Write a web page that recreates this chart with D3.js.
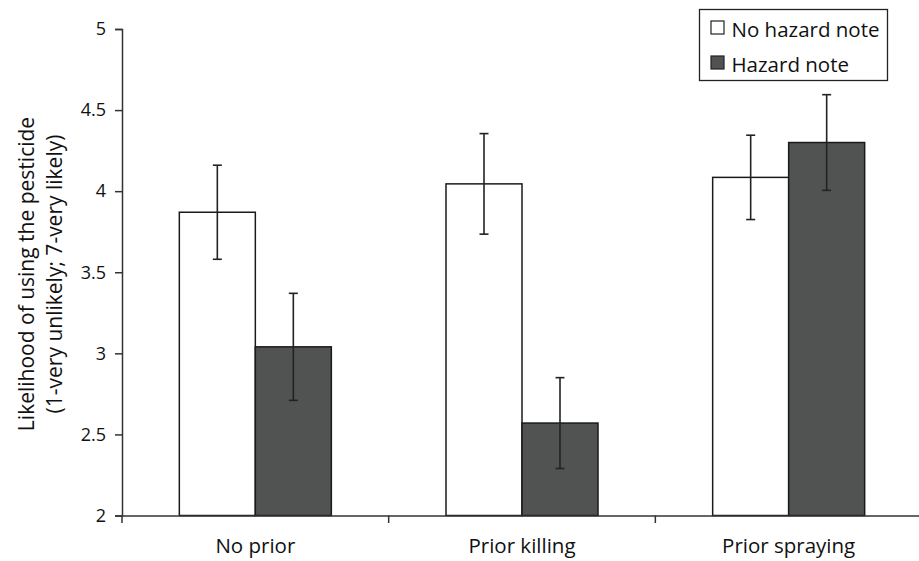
<!DOCTYPE html>
<html>
<head>
<meta charset="utf-8">
<script src="https://cdn.jsdelivr.net/npm/d3@7"></script>
<style>
  body { margin: 0; background: #fff; }
  svg text { font-family: "Open Sans", "DejaVu Sans", sans-serif; fill: #111; }
</style>
</head>
<body>
<div id="chart"></div>
<script>
// Chart data
var categories = ["No prior", "Prior killing", "Prior spraying"];
var seriesNames = ["No hazard note", "Hazard note"];
var noHazardMeans = [3.87, 4.045, 4.085];
var noHazardErrors = [0.29, 0.31, 0.26];
var hazardMeans = [3.04, 2.57, 4.30];
var hazardErrors = [0.33, 0.28, 0.295];
var yTicks = [2, 2.5, 3, 3.5, 4, 4.5, 5];

var colors = ["#ffffff", "#515352"];

// Build rows for drawing
var rows = [];
categories.forEach(function(c, i) {
    rows.push({ cat: c, series: seriesNames[0], mean: noHazardMeans[i], err: noHazardErrors[i] });
    rows.push({ cat: c, series: seriesNames[1], mean: hazardMeans[i], err: hazardErrors[i] });
});

var width = 919, height = 561;
var svg = d3.select("#chart")
            .append("svg")
            .attr("width", width)
            .attr("height", height);

// Scales
var xScale = d3.scaleBand()
               .domain(categories)
               .range([122, 922]);

var xInner = d3.scaleBand()
               .domain(seriesNames)
               .range([0, 152]);

var yScale = d3.scaleLinear()
               .domain([2, 5])
               .range([515.5, 29]);

function barX(d) {
    return xScale(d.cat) + (xScale.bandwidth() - xInner.range()[1]) / 2 + xInner(d.series);
}

// Bars
svg.selectAll("rect.bar")
   .data(rows)
   .enter()
   .append("rect")
   .attr("class", "bar")
   .attr("x", barX)
   .attr("y", function(d) { return yScale(d.mean); })
   .attr("width", xInner.bandwidth())
   .attr("height", function(d) { return yScale(2) - yScale(d.mean); })
   .attr("fill", function(d) { return d.series === seriesNames[0] ? colors[0] : colors[1]; })
   .attr("stroke", "#1a1a1a")
   .attr("stroke-width", 1.5);

// Error bars
var errG = svg.selectAll("g.err")
   .data(rows)
   .enter()
   .append("g")
   .attr("class", "err")
   .attr("stroke", "#222")
   .attr("stroke-width", 1.6);

errG.append("line")
    .attr("x1", function(d) { return barX(d) + xInner.bandwidth() / 2; })
    .attr("x2", function(d) { return barX(d) + xInner.bandwidth() / 2; })
    .attr("y1", function(d) { return yScale(d.mean + d.err); })
    .attr("y2", function(d) { return yScale(d.mean - d.err); });

[1, -1].forEach(function(s) {
    errG.append("line")
        .attr("x1", function(d) { return barX(d) + xInner.bandwidth() / 2 - 4.5; })
        .attr("x2", function(d) { return barX(d) + xInner.bandwidth() / 2 + 4.5; })
        .attr("y1", function(d) { return yScale(d.mean + s * d.err); })
        .attr("y2", function(d) { return yScale(d.mean + s * d.err); });
});

// Y axis
var yAxis = svg.append("g")
   .attr("class", "axis")
   .attr("transform", "translate(122, 0)")
   .call(d3.axisLeft(yScale).tickValues(yTicks).tickSize(7).tickPadding(9)
         .tickFormat(function(d) { return d3.format("")(d); }));

// X axis
var xAxis = svg.append("g")
   .attr("class", "axis")
   .attr("transform", "translate(0, 515.5)")
   .call(d3.axisBottom(xScale).tickSize(0).tickPadding(23));

// Category boundary ticks
svg.selectAll("line.xtick")
   .data(d3.range(categories.length + 1))
   .enter()
   .append("line")
   .attr("class", "xtick")
   .attr("x1", function(i) { return 122 + i * xScale.step(); })
   .attr("x2", function(i) { return 122 + i * xScale.step(); })
   .attr("y1", 515.5)
   .attr("y2", 523)
   .attr("stroke", "#333")
   .attr("stroke-width", 1.5);

svg.selectAll("g.axis path.domain")
   .attr("stroke", "#333")
   .attr("stroke-width", 1.5);
svg.selectAll("g.axis line")
   .attr("stroke", "#333")
   .attr("stroke-width", 1.5);
yAxis.selectAll("text").attr("font-size", "18px");
xAxis.selectAll("text").attr("font-size", "20.5px");
svg.selectAll("g.axis text").style("font-family", "'Open Sans', sans-serif").attr("fill", "#111");

// Y axis title
var yTitle = svg.append("text")
   .attr("transform", "translate(0, 274) rotate(-90)")
   .attr("text-anchor", "middle")
   .attr("font-size", "21px");
yTitle.append("tspan").attr("x", 0).attr("y", 34).text("Likelihood of using the pesticide");
yTitle.append("tspan").attr("x", 0).attr("y", 62).text("(1-very unlikely; 7-very likely)");

// Legend
var legend = svg.append("g").attr("transform", "translate(699.5, 9.5)");
legend.append("rect")
      .attr("width", 188)
      .attr("height", 71)
      .attr("fill", "#fff")
      .attr("stroke", "#222")
      .attr("stroke-width", 1.3);

seriesNames.forEach(function(name, i) {
    legend.append("rect")
          .attr("x", 11.5)
          .attr("y", 11.5 + i * 35)
          .attr("width", 13)
          .attr("height", 13)
          .attr("fill", colors[i])
          .attr("stroke", "#222")
          .attr("stroke-width", 1.2);
    legend.append("text")
          .attr("x", 32)
          .attr("y", 27 + i * 35)
          .attr("font-size", "20.5px")
          .text(name);
});
</script>
</body>
</html>
